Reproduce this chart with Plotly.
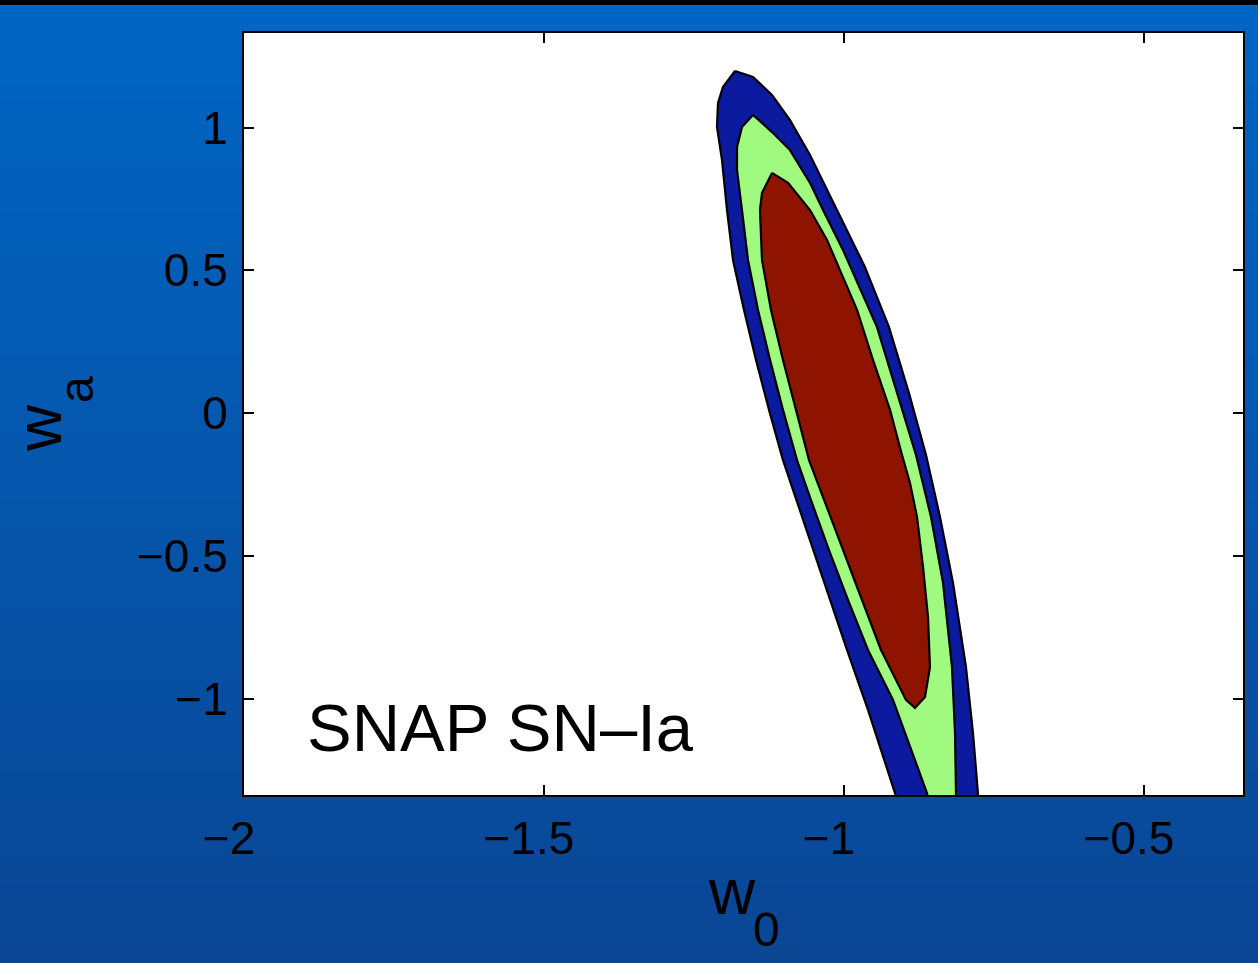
import plotly.graph_objects as go

# ---- data: confidence contours in the (w0, wa) plane ----
# outer (blue) contour
outer_w0 = [-1.1817, -1.1517, -1.12, -1.09, -1.0567, -1.0117, -0.965, -0.925, -0.8917,
            -0.8633, -0.84, -0.8183, -0.7967, -0.785, -0.7767, -0.7717,
            -0.895, -0.915, -0.96, -0.995, -1.0233, -1.0517, -1.08, -1.1017, -1.125,
            -1.1467, -1.1667, -1.185, -1.195, -1.2033, -1.2117, -1.21, -1.2017]
outer_wa = [1.198, 1.177, 1.114, 1.026, 0.904, 0.711, 0.511, 0.301, 0.070,
            -0.147, -0.364, -0.595, -0.890, -1.121, -1.338, -1.461,
            -1.461, -1.331, -1.040, -0.830, -0.655, -0.480, -0.305, -0.165, 0.011,
            0.186, 0.361, 0.536, 0.711, 0.886, 1.002, 1.086, 1.142]
# middle (green) contour
mid_w0 = [-1.1517, -1.12, -1.09, -1.0567, -1.035, -1.0017, -0.945, -0.9117, -0.88,
          -0.855, -0.835, -0.82, -0.815, -0.8133, -0.8117,
          -0.8483, -0.8617, -0.9183, -0.96, -0.9933, -1.025, -1.055, -1.0783, -1.1017,
          -1.1233, -1.1433, -1.16, -1.17, -1.1783, -1.1783, -1.17]
mid_wa = [1.044, 0.984, 0.921, 0.806, 0.711, 0.571, 0.301, 0.070, -0.147,
          -0.364, -0.595, -0.890, -1.121, -1.338, -1.461,
          -1.461, -1.331, -1.005, -0.830, -0.655, -0.480, -0.305, -0.165, 0.011,
          0.186, 0.361, 0.536, 0.711, 0.851, 0.932, 1.002]
# inner (red) contour
inner_w0 = [-1.12, -1.0933, -1.0567, -1.0283, -1.0017, -0.9783, -0.9517, -0.9233, -0.9033,
            -0.89, -0.8783, -0.8683, -0.86, -0.8567, -0.865, -0.8817,
            -0.8967, -0.9383, -0.97, -1.0017, -1.0333, -1.0583, -1.08, -1.1017, -1.1217,
            -1.1367, -1.14, -1.1367]
inner_wa = [0.841, 0.806, 0.711, 0.606, 0.476, 0.361, 0.186, 0.011, -0.147,
            -0.245, -0.364, -0.539, -0.715, -0.890, -0.995, -1.033,
            -1.005, -0.830, -0.655, -0.480, -0.305, -0.165, 0.011, 0.186, 0.361,
            0.536, 0.711, 0.771]

x_ticks = [-2, -1.5, -1, -0.5]
x_tick_labels = ["\u22122", "\u22121.5", "\u22121", "\u22120.5"]
y_ticks = [-1, -0.5, 0, 0.5, 1]
y_tick_labels = ["\u22121", "\u22120.5", "0", "0.5", "1"]
label_text = "SNAP SN\u2013Ia"
x_title = ("w", "0")
y_title = ("w", "a")

# ---- figure ----
W, H = 1258, 963
ML, MR, MT, MB = 244, 15, 33, 168
PW, PH = W - ML - MR, H - MT - MB

fig = go.Figure()
for xs, ys, col in [(outer_w0, outer_wa, "#0b1a9e"),
                    (mid_w0, mid_wa, "#9ffa7f"),
                    (inner_w0, inner_wa, "#8e1400")]:
    fig.add_trace(go.Scatter(x=xs + xs[:1], y=ys + ys[:1], mode="lines", fill="toself",
                             fillcolor=col, line=dict(color="black", width=2.2),
                             hoverinfo="skip", showlegend=False))

def py2paper(py):
    return (H - MB - py) / PH
def px2paper(px):
    return (px - ML) / PW

# background gradient (stripes in paper coords)
shapes = []
x0p, x1p = px2paper(-5), px2paper(W + 5)
top_c = (0, 102, 196)
bot_c = (10, 70, 148)
N = 60
y_start, y_end = 5, H
for i in range(N):
    a = y_start + (y_end - y_start) * i / N
    b = y_start + (y_end - y_start) * (i + 1) / N
    t = (i + 0.5) / N
    c = tuple(round(top_c[k] + (bot_c[k] - top_c[k]) * t) for k in range(3))
    shapes.append(dict(type="rect", xref="paper", yref="paper", x0=x0p, x1=x1p,
                       y0=py2paper(b + 0.5), y1=py2paper(a - 0.5), layer="below",
                       fillcolor="rgb(%d,%d,%d)" % c, line=dict(width=0)))
shapes.append(dict(type="rect", xref="paper", yref="paper", x0=x0p, x1=x1p,
                   y0=py2paper(5), y1=py2paper(-2), layer="below",
                   fillcolor="black", line=dict(width=0)))
shapes.append(dict(type="rect", xref="paper", yref="paper", x0=0, x1=1, y0=0, y1=1,
                   layer="below", fillcolor="white", line=dict(width=0)))

font = "Liberation Sans, Arial, Helvetica, sans-serif"
annotations = [
    dict(text=label_text, x=-1.898, y=-1.103, xref="x", yref="y",
         xanchor="left", yanchor="middle", showarrow=False,
         font=dict(size=67, color="black")),
    # x-axis title w_0
    dict(text=x_title[0], x=px2paper(732), y=py2paper(892), xref="paper", yref="paper",
         xanchor="center", yanchor="middle", showarrow=False, font=dict(size=64)),
    dict(text=x_title[1], x=px2paper(766.5), y=py2paper(930), xref="paper", yref="paper",
         xanchor="center", yanchor="middle", showarrow=False, font=dict(size=48)),
    # y-axis title w_a (rotated)
    dict(text=y_title[0], x=px2paper(39), y=py2paper(428), xref="paper", yref="paper",
         xanchor="center", yanchor="middle", showarrow=False, textangle=-90,
         font=dict(size=64)),
    dict(text=y_title[1], x=px2paper(77), y=py2paper(390), xref="paper", yref="paper",
         xanchor="center", yanchor="middle", showarrow=False, textangle=-90,
         font=dict(size=48)),
]

fig.update_layout(
    width=W, height=H,
    margin=dict(l=ML, r=MR, t=MT, b=MB, pad=0),
    paper_bgcolor="rgb(10,70,148)", plot_bgcolor="white",
    font=dict(family=font, color="black", size=46),
    shapes=shapes,
    xaxis=dict(range=[-2, -0.335], tickmode="array", tickvals=x_ticks, ticktext=x_tick_labels,
               ticks="inside", ticklen=10, tickwidth=2, tickcolor="black",
               showline=True, linecolor="black", linewidth=2, mirror="ticks",
               showgrid=False, zeroline=False, tickfont=dict(size=46),
               ticklabelstandoff=2, ticklabelshift=-15),
    yaxis=dict(range=[-1.338, 1.331], tickmode="array", tickvals=y_ticks, ticktext=y_tick_labels,
               ticks="inside", ticklen=10, tickwidth=2, tickcolor="black",
               showline=True, linecolor="black", linewidth=2, mirror="ticks",
               showgrid=False, zeroline=False, tickfont=dict(size=46),
               ticklabelstandoff=5),
    annotations=annotations,
)
fig.write_html("out.html")
